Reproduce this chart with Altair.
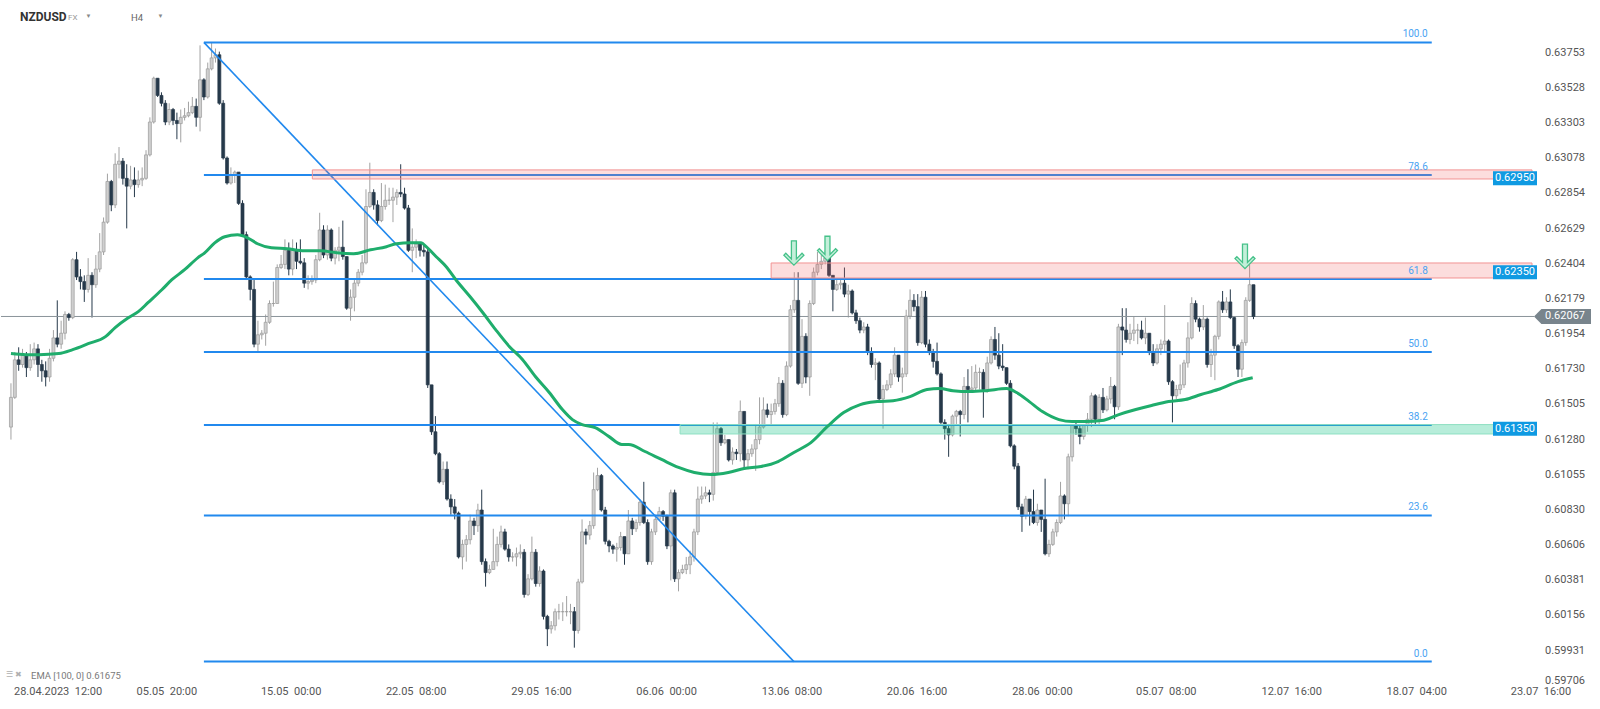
import altair as alt
import pandas as pd

# ---------------- data ----------------
first_open = 0.6136

close = [
    0.6155, 0.6179, 0.6176, 0.6182, 0.6174, 0.6179, 0.6186, 0.6176, 0.6172, 0.6168,
    0.6180, 0.6193, 0.6189, 0.6196, 0.6208, 0.6206, 0.6243, 0.6232, 0.6229, 0.6224,
    0.6233, 0.6227, 0.6237, 0.6248, 0.6267, 0.6293, 0.6278, 0.6304, 0.6306, 0.6295,
    0.6290, 0.6294, 0.6291, 0.6294, 0.6295, 0.6310, 0.6331, 0.6359, 0.6348, 0.6343,
    0.6331, 0.6339, 0.6332, 0.6330, 0.6334, 0.6335, 0.6337, 0.6341, 0.6334, 0.6358,
    0.6347, 0.6365, 0.6372, 0.6374, 0.6343, 0.6308, 0.6292, 0.6297, 0.6299, 0.6279,
    0.6259, 0.6232, 0.6224, 0.6189, 0.6195, 0.6196, 0.6203, 0.6215, 0.6215, 0.6238,
    0.6240, 0.6249, 0.6237, 0.6249, 0.6242, 0.6241, 0.6228, 0.6229, 0.6230, 0.6243,
    0.6262, 0.6246, 0.6262, 0.6244, 0.6249, 0.6251, 0.6245, 0.6212, 0.6219, 0.6228,
    0.6235, 0.6241, 0.6277, 0.6286, 0.6278, 0.6268, 0.6277, 0.6281, 0.6281, 0.6283,
    0.6286, 0.6285, 0.6276, 0.6249, 0.6251, 0.6253, 0.6249, 0.6248, 0.6163, 0.6133,
    0.6119, 0.6101, 0.6109, 0.6090, 0.6085, 0.6081, 0.6053, 0.6061, 0.6064, 0.6076,
    0.6073, 0.6083, 0.6050, 0.6043, 0.6045, 0.6050, 0.6061, 0.6069, 0.6058, 0.6053,
    0.6053, 0.6055, 0.6056, 0.6029, 0.6039, 0.6056, 0.6036, 0.6044, 0.6015, 0.6007,
    0.6009, 0.6018, 0.6018, 0.6018, 0.6018, 0.6018, 0.6006, 0.6037, 0.6069, 0.6067,
    0.6073, 0.6096, 0.6105, 0.6083, 0.6063, 0.6060, 0.6058, 0.6059, 0.6066, 0.6055,
    0.6076, 0.6071, 0.6075, 0.6088, 0.6075, 0.6050, 0.6069, 0.6077, 0.6082, 0.6079,
    0.6060, 0.6094, 0.6039, 0.6043, 0.6045, 0.6048, 0.6053, 0.6069, 0.6090, 0.6092,
    0.6094, 0.6093, 0.6107, 0.6135, 0.6126, 0.6128, 0.6115, 0.6120, 0.6119, 0.6146,
    0.6115, 0.6119, 0.6122, 0.6128, 0.6136, 0.6147, 0.6144, 0.6146, 0.6151, 0.6164,
    0.6144, 0.6175, 0.6211, 0.6217, 0.6164, 0.6194, 0.6168, 0.6215, 0.6235, 0.6240,
    0.6242, 0.6244, 0.6233, 0.6224, 0.6227, 0.6228, 0.6221, 0.6223, 0.6209, 0.6204,
    0.6198, 0.6200, 0.6184, 0.6176, 0.6177, 0.6154, 0.6160, 0.6163, 0.6170, 0.6182,
    0.6168, 0.6170, 0.6207, 0.6217, 0.6213,
    0.6190, 0.6219, 0.6189, 0.6184, 0.6178, 0.6170, 0.6139, 0.6135, 0.6131, 0.6143,
    0.6146, 0.6144, 0.6162, 0.6160, 0.6161, 0.6171, 0.6171, 0.6160, 0.6177, 0.6192,
    0.6182, 0.6175, 0.6174, 0.6164, 0.6124, 0.6111, 0.6085, 0.6079, 0.6090, 0.6082,
    0.6075, 0.6083, 0.6077, 0.6055, 0.6061, 0.6069, 0.6075, 0.6092, 0.6087, 0.6117,
    0.6137, 0.6135, 0.6130, 0.6137, 0.6141, 0.6156, 0.6141, 0.6155, 0.6147, 0.6154,
    0.6162, 0.6149, 0.6200, 0.6198, 0.6192, 0.6196, 0.6198, 0.6198, 0.6193, 0.6196,
    0.6184, 0.6177, 0.6186, 0.6189, 0.6191, 0.6165, 0.6156, 0.6160, 0.6163, 0.6177,
    0.6193, 0.6215, 0.6205, 0.6200, 0.6205, 0.6176, 0.6182, 0.6194, 0.6216, 0.6211,
    0.6216, 0.6206, 0.6188, 0.6173, 0.6190, 0.6217, 0.6227, 0.62067,
]

high = [
    0.6164, 0.6184, 0.6187, 0.6186, 0.6184, 0.6189, 0.6190, 0.6189, 0.6179, 0.6178,
    0.6186, 0.6198, 0.6217, 0.6204, 0.6210, 0.6209, 0.6244, 0.6248, 0.6237, 0.6233,
    0.6244, 0.6235, 0.6246, 0.6260, 0.6270, 0.6298, 0.6294, 0.6311, 0.6315, 0.6308,
    0.6304, 0.6303, 0.6302, 0.6300, 0.6302, 0.6313, 0.6334, 0.6360, 0.6359, 0.6350,
    0.6345, 0.6343, 0.6340, 0.6337, 0.6339, 0.6340, 0.6344, 0.6347, 0.6346, 0.6380,
    0.6359, 0.6369, 0.6382, 0.6378, 0.6376, 0.6345, 0.6309, 0.6302, 0.6300, 0.6299,
    0.6281, 0.6261, 0.6233, 0.6230, 0.6204, 0.6198, 0.6208, 0.6217, 0.6229, 0.6240,
    0.6246, 0.6256, 0.6254, 0.6256, 0.6254, 0.6256, 0.6244, 0.6233, 0.6233, 0.6246,
    0.6273, 0.6265, 0.6265, 0.6263, 0.6251, 0.6264, 0.6268, 0.6242, 0.6224, 0.6230,
    0.6237, 0.6246, 0.6288, 0.6305, 0.6288, 0.6281, 0.6292, 0.6291, 0.6289, 0.6289,
    0.6288, 0.6304, 0.6289, 0.6278, 0.6263, 0.6256, 0.6254, 0.6253, 0.6250, 0.6163,
    0.6143, 0.6120, 0.6114, 0.6114, 0.6093, 0.6090, 0.6082, 0.6064, 0.6067, 0.6080,
    0.6078, 0.6087, 0.6096, 0.6052, 0.6048, 0.6071, 0.6066, 0.6073, 0.6071, 0.6061,
    0.6056, 0.6059, 0.6061, 0.6058, 0.6042, 0.6066, 0.6058, 0.6047, 0.6045, 0.6016,
    0.6012, 0.6020, 0.6023, 0.6024, 0.6028, 0.6023, 0.6021, 0.6039, 0.6077, 0.6071,
    0.6076, 0.6107, 0.6110, 0.6106, 0.6085, 0.6064, 0.6061, 0.6062, 0.6069, 0.6066,
    0.6083, 0.6078, 0.6077, 0.6090, 0.6101, 0.6077, 0.6071, 0.6080, 0.6085, 0.6083,
    0.6080, 0.6096, 0.6096, 0.6045, 0.6048, 0.6053, 0.6057, 0.6071, 0.6098, 0.6098,
    0.6098, 0.6096, 0.6139, 0.6139, 0.6136, 0.6131, 0.6128, 0.6123, 0.6122, 0.6153,
    0.6146, 0.6122, 0.6125, 0.6138, 0.6155, 0.6155, 0.6151, 0.6151, 0.6154, 0.6168,
    0.6166, 0.6178, 0.6214, 0.6235, 0.6235, 0.6205, 0.6196, 0.6217, 0.6238, 0.6248,
    0.6246, 0.6249, 0.6251, 0.6233, 0.6231, 0.6231, 0.6238, 0.6227, 0.6224, 0.6211,
    0.6206, 0.6203, 0.6202, 0.6187, 0.6180, 0.6178, 0.6163, 0.6166, 0.6173, 0.6187,
    0.6182, 0.6174, 0.6211, 0.6224, 0.6221,
    0.6221, 0.6223, 0.6223, 0.6192, 0.6186, 0.6190, 0.6171, 0.6141, 0.6138, 0.6144,
    0.6147, 0.6147, 0.6168, 0.6173, 0.6175, 0.6176, 0.6174, 0.6173, 0.6181, 0.6194,
    0.6200, 0.6196, 0.6189, 0.6174, 0.6166, 0.6125, 0.6113, 0.6087, 0.6092, 0.6090,
    0.6096, 0.6087, 0.6083, 0.6103, 0.6064, 0.6071, 0.6077, 0.6101, 0.6093, 0.6119,
    0.6138, 0.6140, 0.6137, 0.6138, 0.6145, 0.6158, 0.6157, 0.6157, 0.6161, 0.6156,
    0.6168, 0.6163, 0.6202, 0.6212, 0.6212, 0.6202, 0.6207, 0.6202, 0.6204, 0.6206,
    0.6196, 0.6189, 0.6189, 0.6192, 0.6214, 0.6192, 0.6166, 0.6163, 0.6176, 0.6179,
    0.6203, 0.6219, 0.6217, 0.6206, 0.6214, 0.6206, 0.6186, 0.6195, 0.6217, 0.6223,
    0.6219, 0.6224, 0.6207, 0.6189, 0.6192, 0.6219, 0.6240, 0.6227,
]

low = [
    0.6128, 0.6154, 0.6172, 0.6174, 0.6168, 0.6172, 0.6176, 0.6168, 0.6165, 0.6162,
    0.6165, 0.6178, 0.6187, 0.6186, 0.6192, 0.6204, 0.6205, 0.6230, 0.6224, 0.6216,
    0.6222, 0.6206, 0.6225, 0.6235, 0.6246, 0.6266, 0.6274, 0.6276, 0.6295, 0.6291,
    0.6263, 0.6288, 0.6283, 0.6289, 0.6290, 0.6294, 0.6309, 0.6330, 0.6347, 0.6341,
    0.6329, 0.6329, 0.6329, 0.6320, 0.6318, 0.6332, 0.6334, 0.6336, 0.6328, 0.6325,
    0.6345, 0.6346, 0.6364, 0.6369, 0.6342, 0.6307, 0.6291, 0.6291, 0.6292, 0.6278,
    0.6258, 0.6230, 0.6217, 0.6187, 0.6184, 0.6192, 0.6188, 0.6202, 0.6213, 0.6215,
    0.6237, 0.6237, 0.6233, 0.6233, 0.6237, 0.6240, 0.6225, 0.6224, 0.6227, 0.6228,
    0.6242, 0.6244, 0.6243, 0.6242, 0.6240, 0.6242, 0.6243, 0.6211, 0.6204, 0.6210,
    0.6226, 0.6233, 0.6240, 0.6276, 0.6275, 0.6265, 0.6267, 0.6275, 0.6278, 0.6267,
    0.6278, 0.6283, 0.6275, 0.6248, 0.6235, 0.6244, 0.6245, 0.6245, 0.6161, 0.6131,
    0.6118, 0.6100, 0.6099, 0.6089, 0.6080, 0.6077, 0.6052, 0.6045, 0.6050, 0.6061,
    0.6067, 0.6069, 0.6048, 0.6034, 0.6042, 0.6047, 0.6047, 0.6059, 0.6057, 0.6050,
    0.6050, 0.6047, 0.6052, 0.6027, 0.6028, 0.6038, 0.6034, 0.6034, 0.6013, 0.5996,
    0.6004, 0.6006, 0.6013, 0.6012, 0.6015, 0.6010, 0.5995, 0.6004, 0.6036, 0.6061,
    0.6064, 0.6071, 0.6095, 0.6082, 0.6061, 0.6056, 0.6055, 0.6050, 0.6057, 0.6048,
    0.6061, 0.6067, 0.6069, 0.6073, 0.6074, 0.6048, 0.6048, 0.6067, 0.6077, 0.6076,
    0.6058, 0.6038, 0.6037, 0.6031, 0.6042, 0.6042, 0.6042, 0.6050, 0.6067, 0.6087,
    0.6090, 0.6088, 0.6089, 0.6106, 0.6124, 0.6125, 0.6114, 0.6112, 0.6115, 0.6114,
    0.6109, 0.6109, 0.6117, 0.6108, 0.6125, 0.6135, 0.6142, 0.6138, 0.6144, 0.6149,
    0.6142, 0.6143, 0.6174, 0.6209, 0.6163, 0.6161, 0.6164, 0.6156, 0.6214, 0.6233,
    0.6237, 0.6240, 0.6232, 0.6210, 0.6223, 0.6224, 0.6219, 0.6206, 0.6208, 0.6202,
    0.6196, 0.6196, 0.6182, 0.6174, 0.6166, 0.6152, 0.6135, 0.6159, 0.6161, 0.6168,
    0.6165, 0.6158, 0.6168, 0.6205, 0.6210,
    0.6188, 0.6189, 0.6187, 0.6182, 0.6174, 0.6169, 0.6138, 0.6128, 0.6117, 0.6130,
    0.6138, 0.6130, 0.6141, 0.6139, 0.6159, 0.6159, 0.6160, 0.6142, 0.6158, 0.6176,
    0.6179, 0.6173, 0.6172, 0.6163, 0.6123, 0.6109, 0.6083, 0.6069, 0.6077, 0.6073,
    0.6074, 0.6073, 0.6069, 0.6054, 0.6053, 0.6060, 0.6066, 0.6074, 0.6077, 0.6079,
    0.6114, 0.6131, 0.6125, 0.6128, 0.6133, 0.6136, 0.6138, 0.6138, 0.6145, 0.6146,
    0.6151, 0.6141, 0.6147, 0.6182, 0.6190, 0.6189, 0.6191, 0.6189, 0.6192, 0.6189,
    0.6182, 0.6175, 0.6176, 0.6182, 0.6184, 0.6163, 0.6139, 0.6154, 0.6157, 0.6161,
    0.6174, 0.6192, 0.6203, 0.6197, 0.6198, 0.6174, 0.6168, 0.6166, 0.6192, 0.6209,
    0.6209, 0.6205, 0.6186, 0.6168, 0.6168, 0.6188, 0.6216, 0.6205,
]

# EMA(100) line read at sample points (bar index, value)
ema_idx = [0, 3.9, 7.2, 12.4, 16, 20, 24.5, 27, 30.4, 33,
           35.5, 39.1, 41.7, 45, 48.4, 50.2, 52.8, 55.4, 58.7, 61.3,
           63.9, 67.5, 71.6, 76, 80.3, 84.4, 88.8, 93.2, 97.3, 99.9,
           103.5, 106.3, 107.6, 110.2, 112.8, 115.3, 119, 122.3, 125.6, 129.2,
           132.6, 135.9, 139.5, 142.9, 145.5, 148, 151.4, 155, 158.3, 160.1,
           164.3, 168.6, 173, 177.1, 181.5, 185.9, 190, 194.4, 198.8, 202.9,
           207.3, 211.6, 215.8, 220.1, 224.5, 228.6, 233, 237.4, 240.7, 244.1,
           248.5, 252.8, 258, 260.6, 263.9, 267.3, 271.6, 275, 278.6, 282.7,
           287.1, 291.5, 295.6, 300, 304.3, 308.4, 312.8, 318, 321.8]
ema_val = [0.61830, 0.61823, 0.61823, 0.61830, 0.61855, 0.61893, 0.61938, 0.61996, 0.62059, 0.62098,
           0.62155, 0.62238, 0.62302, 0.62366, 0.62442, 0.62474, 0.62538, 0.62577, 0.62589, 0.62570,
           0.62532, 0.62506, 0.62500, 0.62487, 0.62487, 0.62474, 0.62468, 0.62493, 0.62513, 0.62532,
           0.62538, 0.62538, 0.62513, 0.62449, 0.62385, 0.62302, 0.62193, 0.62091, 0.61983, 0.61874,
           0.61791, 0.61683, 0.61581, 0.61472, 0.61408, 0.61376, 0.61357, 0.61299, 0.61249, 0.61249,
           0.61204, 0.61153, 0.61102, 0.61070, 0.61057, 0.61070, 0.61095, 0.61108, 0.61140, 0.61198,
           0.61261, 0.61364, 0.61453, 0.61504, 0.61523, 0.61529, 0.61555, 0.61600, 0.61606, 0.61593,
           0.61587, 0.61593, 0.61606, 0.61581, 0.61523, 0.61459, 0.61408, 0.61395, 0.61395, 0.61402,
           0.61440, 0.61472, 0.61498, 0.61523, 0.61536, 0.61568, 0.61600, 0.61651, 0.61675]

y_ticks = [0.59931, 0.60156, 0.60381, 0.60606, 0.60830, 0.61055, 0.61280, 0.61505,
           0.61730, 0.61954, 0.62179, 0.62404, 0.62629, 0.62854, 0.63078, 0.63303, 0.63528, 0.63753]
y_tick_bottom = 0.59706

date_labels = ["28.04.2023\u00a0 12:00", "05.05\u00a0 20:00", "15.05\u00a0 00:00", "22.05\u00a0 08:00",
               "29.05\u00a0 16:00", "06.06\u00a0 00:00", "13.06\u00a0 08:00", "20.06\u00a0 16:00",
               "28.06\u00a0 00:00", "05.07\u00a0 08:00", "12.07\u00a0 16:00", "18.07\u00a0 04:00",
               "23.07\u00a0 16:00"]
date_pos = [12.2, 40.4, 72.6, 105.0, 137.5, 169.9, 202.4, 234.8, 267.3, 299.4, 331.9, 364.3, 396.5]

fib_levels = ["0.0", "23.6", "38.2", "50.0", "61.8", "78.6", "100.0"]
fib_prices = [0.59861, 0.60795, 0.61373, 0.61840, 0.62307, 0.62972, 0.63819]
fib_start, fib_end = 50.0, 368.2
trend_from = (50.0, 0.63819)
trend_to = (202.9, 0.59861)

zone_low = [0.62946, 0.62313, 0.61316]
zone_high = [0.63004, 0.62409, 0.61376]
zone_start = [78.1, 197.0, 173.4]
zone_kind = ["res", "res", "sup"]
zone_label = ["0.62950", "0.62350", "0.61350"]
zone_label_price = [0.62950, 0.62350, 0.61350]

arrow_idx = [202.9, 211.6, 319.8]
arrow_val = [0.62471, 0.62500, 0.62449]

# ---------------- chart ----------------
X_MIN, X_MAX = -1.287, 394.18
Y_MIN, Y_MAX = 0.59705, 0.64090
W, H = 1536, 686
FONT = "Roboto"

xs = alt.Scale(domain=[X_MIN, X_MAX], nice=False, zero=False)
ys = alt.Scale(domain=[Y_MIN, Y_MAX], nice=False, zero=False)


def X(f):
    return alt.X(f, scale=xs, axis=None, title=None)


def Y(f):
    return alt.Y(f, scale=ys, axis=None, title=None)


opens = [first_open] + close[:-1]
rows = []
for i, c in enumerate(close):
    o = opens[i]
    rows.append(dict(i=i, o=o, c=c, h=max(high[i], o, c), l=min(low[i], o, c),
                     d="up" if c >= o else "down"))
cdf = pd.DataFrame(rows)

dir_dom = ["up", "down"]
wicks = alt.Chart(cdf).mark_rule(strokeWidth=1).encode(
    x=X("i:Q"), y=Y("l:Q"), y2="h:Q",
    color=alt.Color("d:N", scale=alt.Scale(domain=dir_dom, range=["#a2a2a2", "#26394a"]), legend=None),
)
bodies = alt.Chart(cdf).mark_bar(size=3, strokeWidth=0.7).encode(
    x=X("i:Q"), y=Y("o:Q"), y2="c:Q",
    fill=alt.Fill("d:N", scale=alt.Scale(domain=dir_dom, range=["#cfcfcf", "#26394a"]), legend=None),
    stroke=alt.Stroke("d:N", scale=alt.Scale(domain=dir_dom, range=["#9b9b9b", "#26394a"]), legend=None),
)

# price-scale labels on the right
ydf = pd.DataFrame({"p": y_ticks, "t": [f"{v:.5f}" for v in y_ticks]})
ylabels = alt.Chart(ydf).mark_text(align="left", baseline="middle", fontSize=11, font=FONT,
                                   color="#555555").encode(x=alt.value(1544), y=Y("p:Q"), text="t:N")
ybottom = alt.Chart(pd.DataFrame({"p": [y_tick_bottom], "t": [f"{y_tick_bottom:.5f}"]})).mark_text(
    align="left", baseline="bottom", fontSize=11, font=FONT, color="#555555").encode(
    x=alt.value(1544), y=Y("p:Q"), text="t:N")

price_line = alt.Chart(pd.DataFrame({"p": [close[-1]]})).mark_rule(color="#8a949a", strokeWidth=1).encode(
    y=Y("p:Q"), x=alt.value(0), x2=alt.value(1533))

fdf = pd.DataFrame({"t": fib_levels, "p": fib_prices, "s": [fib_start] * 7, "e": [fib_end] * 7})
fib_lines = alt.Chart(fdf).mark_rule(color="#2189ee", strokeWidth=2).encode(
    x=X("s:Q"), x2="e:Q", y=Y("p:Q"))
fib_text = alt.Chart(fdf).mark_text(align="right", baseline="bottom", dx=-4, dy=-3, fontSize=10,
                                    font=FONT, color="#4aa3f2").encode(
    x=X("e:Q"), y=Y("p:Q"), text="t:N")

tdf = pd.DataFrame({"x": [trend_from[0]], "y": [trend_from[1]], "x2": [trend_to[0]], "y2": [trend_to[1]]})
trend = alt.Chart(tdf).mark_rule(color="#2189ee", strokeWidth=1.6).encode(
    x=X("x:Q"), y=Y("y:Q"), x2="x2:Q", y2="y2:Q")

zdf = pd.DataFrame({"lo": zone_low, "hi": zone_high, "s": zone_start, "e": [X_MAX] * 3,
                    "fill": ["rgba(240,100,100,0.22)" if k == "res" else "rgba(30,200,140,0.32)" for k in zone_kind],
                    "stroke": ["#f29393" if k == "res" else "#8fdfc2" for k in zone_kind]})
zones = alt.Chart(zdf).mark_rect(strokeWidth=1).encode(
    x=X("s:Q"), x2="e:Q", y=Y("lo:Q"), y2="hi:Q",
    fill=alt.Fill("fill:N", scale=None), stroke=alt.Stroke("stroke:N", scale=None))

ema = alt.Chart(pd.DataFrame({"i": ema_idx, "v": ema_val})).mark_line(
    color="#1fad6c", strokeWidth=3, interpolate="monotone").encode(x=X("i:Q"), y=Y("v:Q"))

ARROW = "M-0.2,-1 L0.2,-1 L0.2,0.45 L0.65,0 L0.8,0.15 L0,0.95 L-0.8,0.15 L-0.65,0 L-0.2,0.45 Z"
arrows = alt.Chart(pd.DataFrame({"i": arrow_idx, "v": arrow_val})).mark_point(
    shape=ARROW, size=625, filled=True, fill="#c4efda", stroke="#45c189", strokeWidth=1.3,
    opacity=1).encode(x=X("i:Q"), y=Y("v:Q"))

BOX = "M-1,-0.318 L1,-0.318 L1,0.318 L-1,0.318 Z"
ldf = pd.DataFrame({"t": zone_label, "p": zone_label_price})
lab_box = alt.Chart(ldf).mark_point(shape=BOX, size=1936, filled=True, color="#0f9ae2", opacity=1,
                                    strokeWidth=0).encode(x=alt.value(1514), y=Y("p:Q"))
lab_txt = alt.Chart(ldf).mark_text(color="white", fontSize=11, font=FONT).encode(
    x=alt.value(1514), y=Y("p:Q"), text="t:N")

TAG = "M-1,0 L-0.74,-0.263 L1,-0.263 L1,0.263 L-0.74,0.263 Z"
pdf = pd.DataFrame({"p": [close[-1]], "t": [f"{close[-1]:.5f}"]})
tag = alt.Chart(pdf).mark_point(shape=TAG, size=3249, filled=True, color="#78848c", opacity=1,
                                strokeWidth=0).encode(x=alt.value(1561.5), y=Y("p:Q"))
tag_txt = alt.Chart(pdf).mark_text(color="white", fontSize=11, font=FONT, align="left").encode(
    x=alt.value(1544), y=Y("p:Q"), text="t:N")

ddf = pd.DataFrame({"pos": date_pos, "t": date_labels})
dates = alt.Chart(ddf).mark_text(fontSize=11, font=FONT, color="#555555", baseline="middle").encode(
    x=X("pos:Q"), y=alt.value(692), text="t:N")


def text_at(txt, x, y, **kw):
    return alt.Chart(pd.DataFrame({"t": [txt]})).mark_text(font=FONT, baseline="middle", **kw).encode(
        x=alt.value(x), y=alt.value(y), text="t:N")


header = [
    text_at("NZDUSD", 19, 17, align="left", fontSize=12, fontWeight="bold", color="#333333"),
    text_at("FX", 67, 18, align="left", fontSize=8, color="#999999"),
    text_at("\u25bc", 87.5, 16, align="center", fontSize=6, color="#888888"),
    text_at("H4", 130, 18, align="left", fontSize=9.5, color="#666666"),
    text_at("\u25bc", 159.5, 16, align="center", fontSize=6, color="#888888"),
    text_at("\u2630", 5, 675, align="left", fontSize=8, color="#b0b0b0"),
    text_at("\u2716", 14, 675, align="left", fontSize=8, color="#b0b0b0"),
    text_at("EMA [100, 0] 0.61675", 30, 676, align="left", fontSize=9.5, color="#7a7a7a"),
]

chart = alt.layer(
    wicks, price_line, bodies, fib_lines, trend, zones, ema, fib_text, arrows,
    ylabels, ybottom, lab_box, lab_txt, tag, tag_txt, dates, *header
).properties(width=W, height=H, padding=0, background="white").configure_view(stroke=None)

chart.save("out.html", embed_options={"renderer": "svg", "actions": False})
